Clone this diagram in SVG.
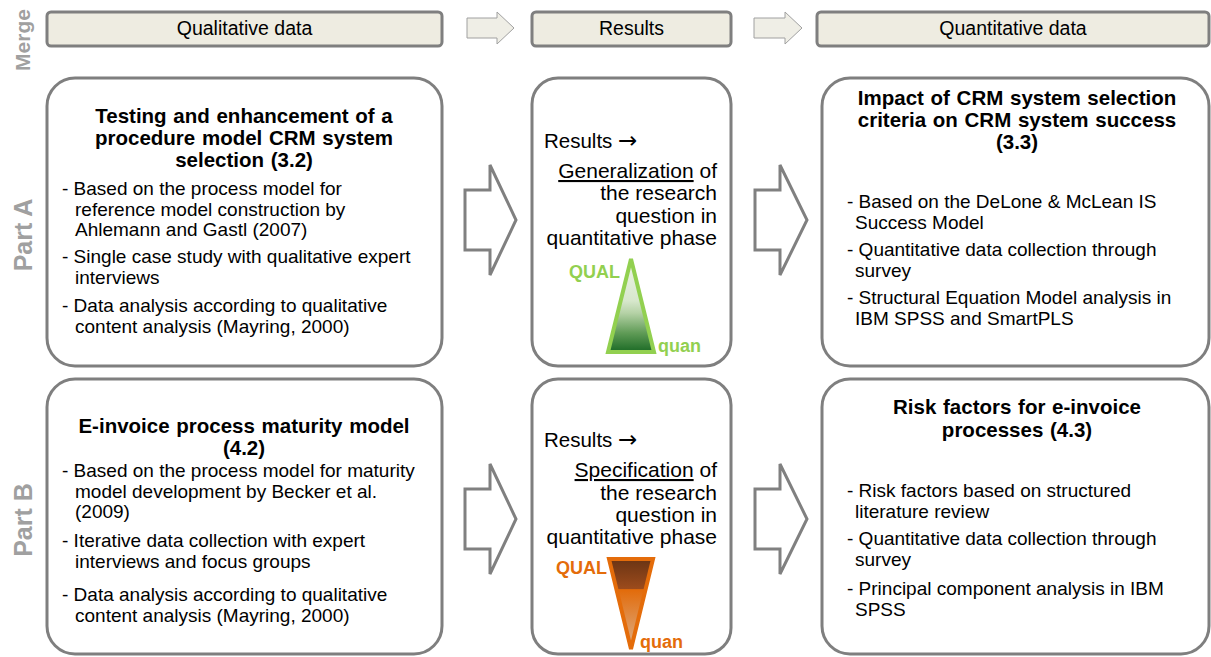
<svg xmlns="http://www.w3.org/2000/svg" width="1211" height="657" viewBox="0 0 1211 657">
<defs>
<linearGradient id="gGreen" x1="0" y1="0" x2="0" y2="1">
<stop offset="0" stop-color="#EEF4E8"/>
<stop offset="0.45" stop-color="#D7E7CC"/>
<stop offset="0.58" stop-color="#B5D2A6"/>
<stop offset="0.8" stop-color="#5E9A55"/>
<stop offset="1" stop-color="#1B6A25"/>
</linearGradient>
<linearGradient id="gOrange" x1="0" y1="0" x2="0" y2="1">
<stop offset="0" stop-color="#6A3414"/>
<stop offset="0.33" stop-color="#9C4B1C"/>
<stop offset="0.34" stop-color="#E26B0A"/>
<stop offset="1" stop-color="#DDB08A"/>
</linearGradient>
<style>
.hdr{fill:#EEECE1;stroke:#7F7F7F;stroke-width:3}
.box{fill:#FFFFFF;stroke:#7F7F7F;stroke-width:3}
.harr{fill:#EFEEE6;stroke:#A0A0A0;stroke-width:1}
.barr{fill:#FFFFFF;stroke:#808080;stroke-width:3;stroke-linejoin:miter}
text{font-family:"Liberation Sans",Arial,sans-serif;fill:#000}
.ht{font-size:19.5px;text-anchor:middle}
.side{font-weight:bold;fill:#A0A0A0;text-anchor:middle}
.tt{font-size:20.5px;font-weight:bold;text-anchor:middle;word-spacing:1px}
.bt{font-size:19px}
.mt{font-size:20.5px}
.mr{font-size:21px;text-anchor:end}
.ar{font-family:"DejaVu Sans",sans-serif;font-size:23px}
.lbl{font-size:18px;font-weight:bold}
</style>
</defs>

<g id="side-labels">
<text class="side" style="font-size:21px" transform="translate(30,40) rotate(-90)">Merge</text>
<text class="side" style="font-size:25px" transform="translate(32,235) rotate(-90)">Part A</text>
<text class="side" style="font-size:25px" transform="translate(32,520) rotate(-90)">Part B</text>
</g>

<g id="hdr-qual">
<rect class="hdr" x="47" y="12" width="395" height="34" rx="4"/>
<text class="ht" x="244.5" y="35">Qualitative data</text>
</g>
<g id="hdr-results">
<rect class="hdr" x="532" y="12" width="199" height="34" rx="4"/>
<text class="ht" x="631.5" y="35">Results</text>
</g>
<g id="hdr-quant">
<rect class="hdr" x="817" y="12" width="392" height="34" rx="4"/>
<text class="ht" x="1013" y="35">Quantitative data</text>
</g>

<g id="connectors">
<polygon class="harr" points="467,18 497,18 497,12 514,28 497,44 497,38 467,38"/>
<polygon class="harr" points="754,18 785,18 785,12 802,28 785,44 785,38 754,38"/>
<polygon class="barr" points="465,190 490,190 490,165 516,220 490,275 490,250 465,250"/>
<polygon class="barr" points="755,190 780,190 780,165 807,220 780,275 780,250 755,250"/>
<polygon class="barr" points="465,489 490,489 490,464 516,519 490,574 490,549 465,549"/>
<polygon class="barr" points="755,489 780,489 780,464 807,519 780,574 780,549 755,549"/>
</g>

<g id="a-qual">
<rect class="box" x="47" y="78" width="395" height="288" rx="28"/>
<text class="tt" x="244" y="123">Testing and enhancement of a</text>
<text class="tt" x="244" y="145">procedure model CRM system</text>
<text class="tt" x="244" y="167">selection (3.2)</text>
<text class="bt" x="62" y="195">- Based on the process model for</text>
<text class="bt" x="75" y="215.5">reference model construction by</text>
<text class="bt" x="75" y="236">Ahlemann and Gastl (2007)</text>
<text class="bt" x="62" y="263">- Single case study with qualitative expert</text>
<text class="bt" x="75" y="284">interviews</text>
<text class="bt" x="62" y="312">- Data analysis according to qualitative</text>
<text class="bt" x="75" y="333">content analysis (Mayring, 2000)</text>
</g>

<g id="a-results">
<rect class="box" x="532" y="78" width="199" height="288" rx="26"/>
<text class="mt" x="544" y="148">Results <tspan class="ar">→</tspan></text>
<text class="mr" x="717" y="178"><tspan text-decoration="underline">Generalization</tspan> of</text>
<text class="mr" x="717" y="200">the research</text>
<text class="mr" x="717" y="222.5">question in</text>
<text class="mr" x="717" y="245">quantitative phase</text>
<polygon points="631,259 608,352 654,352" fill="url(#gGreen)" stroke="#92D050" stroke-width="4" stroke-linejoin="miter"/>
<text class="lbl" x="620" y="278" text-anchor="end" style="fill:#92D050">QUAL</text>
<text class="lbl" x="658" y="352" style="fill:#92D050">quan</text>
</g>

<g id="a-quant">
<rect class="box" x="822" y="78" width="387" height="288" rx="28"/>
<text class="tt" x="1017" y="105">Impact of CRM system selection</text>
<text class="tt" x="1017" y="127">criteria on CRM system success</text>
<text class="tt" x="1017" y="149">(3.3)</text>
<text class="bt" x="847" y="208">- Based on the DeLone &amp; McLean IS</text>
<text class="bt" x="855" y="229">Success Model</text>
<text class="bt" x="847" y="256">- Quantitative data collection through</text>
<text class="bt" x="855" y="277">survey</text>
<text class="bt" x="847" y="304">- Structural Equation Model analysis in</text>
<text class="bt" x="855" y="325">IBM SPSS and SmartPLS</text>
</g>

<g id="b-qual">
<rect class="box" x="47" y="379" width="395" height="275" rx="28"/>
<text class="tt" x="244" y="433">E-invoice process maturity model</text>
<text class="tt" x="244" y="455">(4.2)</text>
<text class="bt" x="62" y="477">- Based on the process model for maturity</text>
<text class="bt" x="75" y="498">model development by Becker et al.</text>
<text class="bt" x="75" y="518">(2009)</text>
<text class="bt" x="62" y="547">- Iterative data collection with expert</text>
<text class="bt" x="75" y="568">interviews and focus groups</text>
<text class="bt" x="62" y="601">- Data analysis according to qualitative</text>
<text class="bt" x="75" y="622">content analysis (Mayring, 2000)</text>
</g>

<g id="b-results">
<rect class="box" x="532" y="379" width="199" height="275" rx="26"/>
<text class="mt" x="544" y="447">Results <tspan class="ar">→</tspan></text>
<text class="mr" x="717" y="477"><tspan text-decoration="underline">Specification</tspan> of</text>
<text class="mr" x="717" y="499.5">the research</text>
<text class="mr" x="717" y="522">question in</text>
<text class="mr" x="717" y="544">quantitative phase</text>
<polygon points="609,559 653,559 631,649" fill="url(#gOrange)" stroke="#E46C0A" stroke-width="4" stroke-linejoin="miter"/>
<text class="lbl" x="607" y="574" text-anchor="end" style="fill:#E46C0A">QUAL</text>
<text class="lbl" x="640" y="648" style="fill:#E46C0A">quan</text>
</g>

<g id="b-quant">
<rect class="box" x="822" y="379" width="387" height="275" rx="28"/>
<text class="tt" x="1017" y="414">Risk factors for e-invoice</text>
<text class="tt" x="1017" y="437">processes (4.3)</text>
<text class="bt" x="847" y="497">- Risk factors based on structured</text>
<text class="bt" x="855" y="518">literature review</text>
<text class="bt" x="847" y="545">- Quantitative data collection through</text>
<text class="bt" x="855" y="566">survey</text>
<text class="bt" x="847" y="595">- Principal component analysis in IBM</text>
<text class="bt" x="855" y="616">SPSS</text>
</g>
</svg>
